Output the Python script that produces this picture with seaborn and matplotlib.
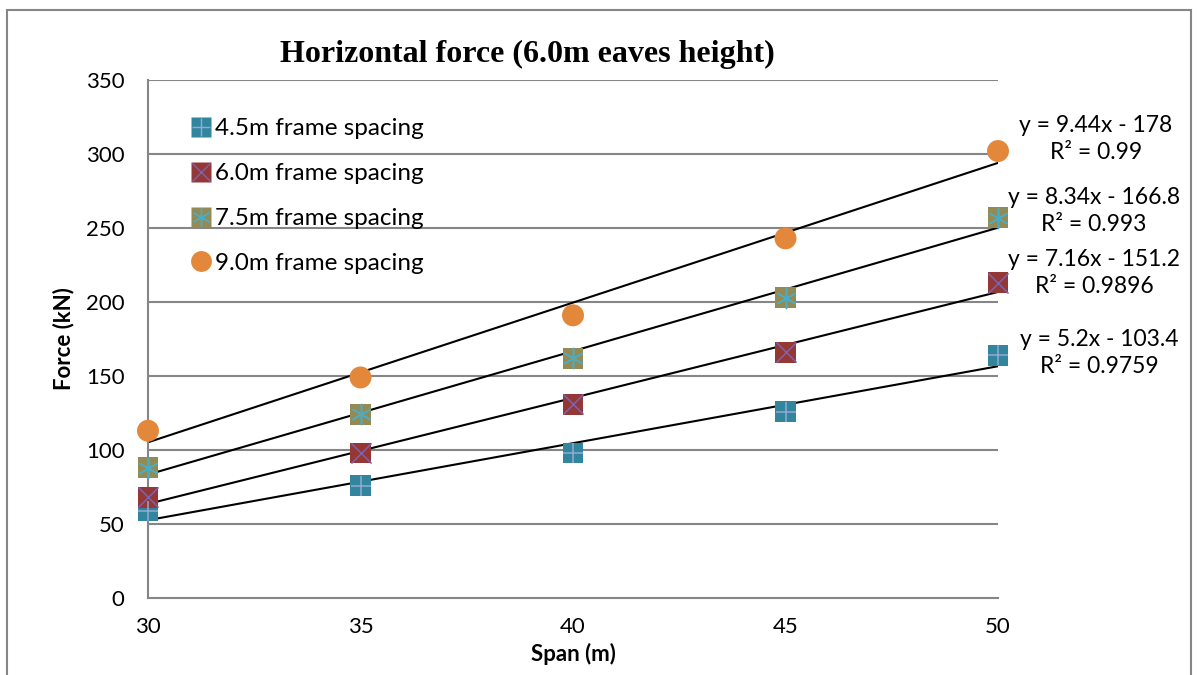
import matplotlib
matplotlib.use("Agg")
import matplotlib.pyplot as plt
from matplotlib.lines import Line2D
from matplotlib.patches import Rectangle
import seaborn as sns
import pandas as pd

# Data: horizontal force (kN) against span (m), per frame spacing
spans = [30, 35, 40, 45, 50]
force_45 = [59, 76, 98, 126, 164]
force_60 = [68, 98, 131, 166, 213]
force_75 = [88, 124, 162, 203, 257]
force_90 = [113, 149, 191, 243, 302]
series_names = ["4.5m frame spacing", "6.0m frame spacing",
                "7.5m frame spacing", "9.0m frame spacing"]
equations = ["y = 5.2x - 103.4\nR² = 0.9759",
             "y = 7.16x - 151.2\nR² = 0.9896",
             "y = 8.34x - 166.8\nR² = 0.993",
             "y = 9.44x - 178\nR² = 0.99"]
y_ticks = [0, 50, 100, 150, 200, 250, 300, 350]
x_ticks = [30, 35, 40, 45, 50]

ASTER = (6, 2, 0)
# marker styling per series: (base marker, fill colour, overlay marker, overlay colour)
styles = [
    ("s", "#31859C", "+", "#93A9D6"),
    ("s", "#953735", "x", "#7A64B0"),
    ("s", "#948A54", ASTER, "#4BACC6"),
    ("o", "#E3873A", None, None),
]

df = pd.DataFrame({
    "span": spans * 4,
    "force": force_45 + force_60 + force_75 + force_90,
    "series": sum([[n] * len(spans) for n in series_names], []),
})

sns.set_theme(style="white")
plt.rcParams["font.family"] = ["Lato", "DejaVu Sans"]
plt.rcParams["text.color"] = "black"
plt.rcParams["axes.labelcolor"] = "black"

W, H = 1198, 675
fig = plt.figure(figsize=(W / 100, H / 100), dpi=100)
ax = fig.add_axes([148 / W, 77 / H, (998 - 148) / W, (598 - 80) / H])

grid_c = "#868686"
for yv in y_ticks[1:]:
    ax.axhline(yv, color=grid_c, lw=1.5, zorder=0)

# trendlines (least-squares) over the sampled span range
for name in series_names:
    sub = df[df["series"] == name]
    sns.regplot(data=sub, x="span", y="force", ax=ax, scatter=False, ci=None,
                truncate=True, line_kws=dict(color="black", lw=1.5, zorder=2))

for name, (m, fc, om, oc) in zip(series_names, styles):
    sub = df[df["series"] == name]
    sns.scatterplot(data=sub, x="span", y="force", ax=ax, marker=m,
                    s=225 if m == "s" else 250,
                    color=fc, edgecolor="none", linewidth=0, zorder=3, legend=False)
    if om is not None:
        sns.scatterplot(data=sub, x="span", y="force", ax=ax, marker=om,
                        s=210,
                        color=oc, edgecolor=oc, linewidth=1.1, zorder=4, legend=False)

for coll in ax.collections:
    coll.set_clip_on(False)

ax.set_xlim(30, 50)
ax.set_ylim(0, 350)
ax.set_xticks(x_ticks)
ax.set_yticks(y_ticks)
ax.tick_params(axis="both", which="both", direction="out", length=6, width=1.5,
               color=grid_c, labelsize=16, labelcolor="black")
ax.tick_params(axis="y", pad=11)
ax.tick_params(axis="x", pad=8)
for s in ["top", "right"]:
    ax.spines[s].set_visible(False)
for s in ["left", "bottom"]:
    ax.spines[s].set_color(grid_c)
    ax.spines[s].set_linewidth(1.5)

ax.set_xlabel("Span (m)", fontsize=16, fontweight="bold", labelpad=4)
ax.set_ylabel("Force (kN)", fontsize=16, fontweight="bold", labelpad=8)

# legend with layered markers
legend_handles = []
for (m, fc, om, oc) in styles:
    base = Line2D([], [], marker=m, color="none", markerfacecolor=fc,
                  markeredgecolor="none", markersize=14 if m == "s" else 15)
    if om is not None:
        over = Line2D([], [], marker=om, color="none", markeredgecolor=oc,
                      markerfacecolor=oc, markersize=13,
                      markeredgewidth=1.0)
        legend_handles.append((base, over))
    else:
        legend_handles.append(base)
ax.legend(legend_handles, series_names, loc="upper left",
          bbox_to_anchor=(0.052, 0.926), frameon=False,
          fontsize=17.5, handlelength=0.75, handletextpad=0.2, labelspacing=0.98,
          borderaxespad=0, borderpad=0)

fig.text(527 / W, 1 - 54 / H, "Horizontal force (6.0m eaves height)",
         ha="center", va="center", fontsize=23, fontweight="bold",
         family="Liberation Serif")

# trendline equations
eq_pos = [(1099, 353), (1094, 273), (1094, 211), (1096, 139)]
for text, (px, py) in zip(equations, eq_pos):
    fig.text(px / W, 1 - py / H, text, ha="center", va="center",
             fontsize=16.5, linespacing=1.3)

# chart border
fig.patches.append(Rectangle((7 / W, -0.1), (1191 - 7) / W, 1.1 - 10 / H,
                             transform=fig.transFigure, fill=False,
                             edgecolor=grid_c, lw=1.5))

fig.savefig("out.png", dpi=100)
